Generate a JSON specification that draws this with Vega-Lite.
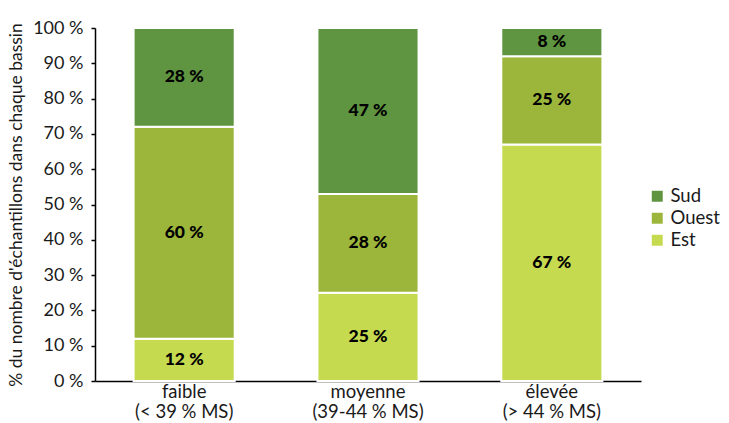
{
  "$schema": "https://vega.github.io/schema/vega-lite/v6.json",
  "width": 546,
  "height": 353,
  "padding": {"left": 7, "top": 19, "right": 5, "bottom": 0},
  "background": "white",
  "config": {
    "view": {"stroke": null},
    "font": "Lato",
    "axis": {"labelFont": "Lato", "titleFont": "Lato", "labelColor": "#1a1a1a", "titleColor": "#1a1a1a"}
  },
  "data": {
    "values": [
      {"classe": "faible|(< 39 % MS)", "serie": "Est", "pct": 12},
      {"classe": "faible|(< 39 % MS)", "serie": "Ouest", "pct": 60},
      {"classe": "faible|(< 39 % MS)", "serie": "Sud", "pct": 28},
      {"classe": "moyenne|(39-44 % MS)", "serie": "Est", "pct": 25},
      {"classe": "moyenne|(39-44 % MS)", "serie": "Ouest", "pct": 28},
      {"classe": "moyenne|(39-44 % MS)", "serie": "Sud", "pct": 47},
      {"classe": "élevée|(> 44 % MS)", "serie": "Est", "pct": 67},
      {"classe": "élevée|(> 44 % MS)", "serie": "Ouest", "pct": 25},
      {"classe": "élevée|(> 44 % MS)", "serie": "Sud", "pct": 8}
    ]
  },
  "transform": [
    {"stack": "pct", "groupby": ["classe"], "sort": [{"field": "serie", "order": "ascending"}], "as": ["y0", "y1"]},
    {"calculate": "(datum.y0 + datum.y1) / 2", "as": "ymid"},
    {"calculate": "datum.pct + ' %'", "as": "etiquette"}
  ],
  "encoding": {
    "x": {
      "field": "classe",
      "type": "nominal",
      "sort": null,
      "scale": {"paddingInner": 0.45, "paddingOuter": 0.21},
      "axis": {
        "title": null,
        "labelAngle": 0,
        "labelExpr": "split(datum.label, '|')",
        "labelFontSize": 18.5,
        "labelPadding": 1,
        "ticks": false,
        "domainColor": "#000000",
        "domainWidth": 1.5,
        "labelLineHeight": 20
      }
    }
  },
  "resolve": {"axis": {"y": "independent"}},
  "layer": [
    {
      "mark": {"type": "bar", "stroke": "white", "strokeWidth": 2},
      "encoding": {
        "y": {
          "field": "y0",
          "type": "quantitative",
          "scale": {"domain": [0, 100], "nice": false},
          "axis": {
            "title": "% du nombre d'échantillons dans chaque bassin",
            "titleFontSize": 17.5,
            "titleFontWeight": "normal",
            "titlePadding": 7,
            "values": [0, 10, 20, 30, 40, 50, 60, 70, 80, 90, 100],
            "labelExpr": "datum.value + ' %'",
            "labelOverlap": false,
            "labelFontSize": 18,
            "labelPadding": 8,
            "grid": false,
            "tickColor": "#000000",
            "tickSize": 4,
            "tickWidth": 1.5,
            "domainColor": "#000000",
            "domainWidth": 1.5
          }
        },
        "y2": {"field": "y1"},
        "color": {
          "field": "serie",
          "type": "nominal",
          "scale": {"domain": ["Sud", "Ouest", "Est"], "range": ["#5f9441", "#9cb63b", "#c6da50"]},
          "legend": {
            "title": null,
            "orient": "none",
            "legendX": 553,
            "legendY": 159,
            "symbolType": "square",
            "symbolSize": 120,
            "symbolStrokeWidth": 0,
            "labelFontSize": 18.5,
            "labelFont": "Lato",
            "labelColor": "#1a1a1a",
            "rowPadding": 3
          }
        }
      }
    },
    {
      "mark": {"type": "text", "fontWeight": 900, "fontSize": 17.5, "color": "#000000", "font": "Lato"},
      "encoding": {
        "y": {"field": "ymid", "type": "quantitative", "axis": null},
        "text": {"field": "etiquette", "type": "nominal"},
        "detail": {"field": "serie"}
      }
    }
  ]
}
